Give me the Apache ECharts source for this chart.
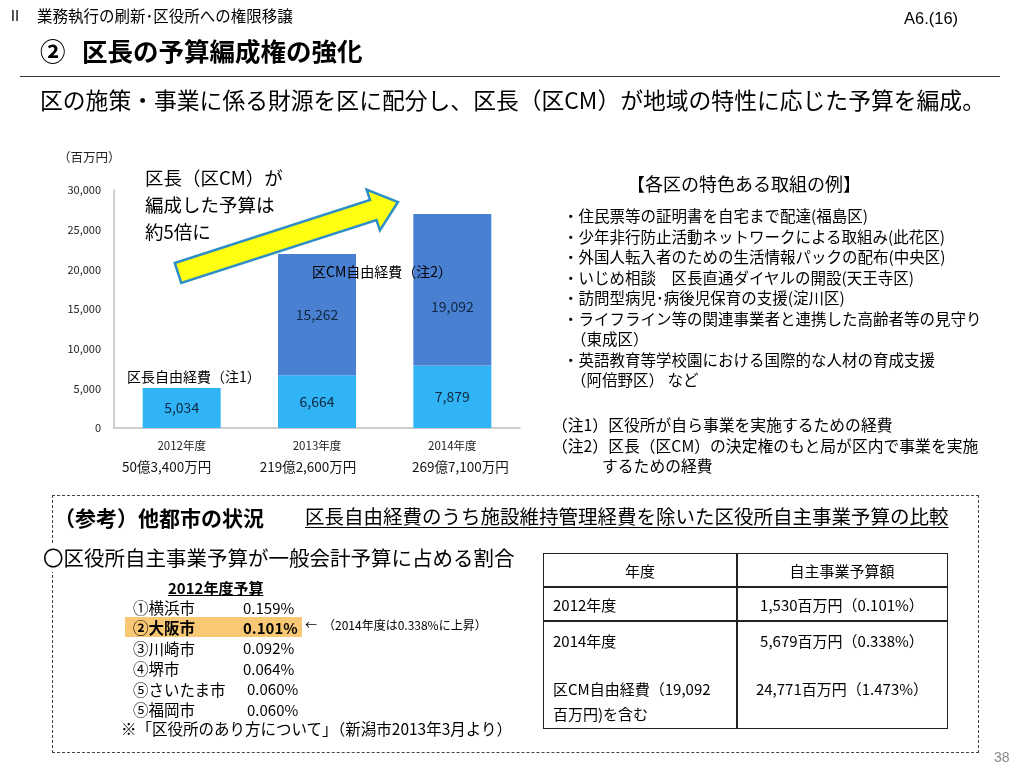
<!DOCTYPE html>
<html><head><meta charset="utf-8">
<script src="https://cdn.jsdelivr.net/npm/echarts@6/dist/echarts.min.js"></script>
<style>
html,body{margin:0;padding:0;background:#fff;}
body{width:1024px;height:768px;position:relative;overflow:hidden;font-family:"Noto Sans CJK JP","Noto Sans",sans-serif;color:#000;}
#chart{position:absolute;left:0;top:0;width:1024px;height:768px;}
.t{position:absolute;white-space:nowrap;}
</style></head><body>
<div id="chart"></div>
<div id="overlay"></div>
<script>
// ---- chart data ----
const categories = ['2012年度', '2013年度', '2014年度'];
const totalLabels = ['50億3,400万円', '219億2,600万円', '269億7,100万円'];
const kuchoFree = [5034, 6664, 7879];      // 区長自由経費
const cmFree = [null, 15262, 19092];       // 区CM自由経費
const yMin = 0, yMax = 30000, yStep = 5000;
const unitLabel = '（百万円）';
const bigNote = ['区長（区CM）が', '編成した予算は', '約5倍に'];
const seriesNames = ['区長自由経費（注1）', '区CM自由経費（注2）'];

// ---- slide text ----
const examples = [
  ['・住民票等の証明書を自宅まで配達(福島区)', 0],
  ['・少年非行防止活動ネットワークによる取組み(此花区)', 0],
  ['・外国人転入者のための生活情報パックの配布(中央区)', 0],
  ['・いじめ相談　区長直通ダイヤルの開設(天王寺区)', 0],
  ['・訪問型病児･病後児保育の支援(淀川区)', 0],
  ['・ライフライン等の関連事業者と連携した高齢者等の見守り', 0],
  ['（東成区）', 1],
  ['・英語教育等学校園における国際的な人材の育成支援', 0],
  ['（阿倍野区）  など', 1]
];
const notes = ['（注1）区役所が自ら事業を実施するための経費', '（注2）区長（区CM）の決定権のもと局が区内で事業を実施', 'するための経費'];
const cityRanks = [['①横浜市', '0.159%'], ['②大阪市', '0.101%'], ['③川崎市', '0.092%'], ['④堺市', '0.064%'], ['⑤さいたま市', '0.060%'], ['⑤福岡市', '0.060%']];
const tableHeader = ['年度', '自主事業予算額'];
const tableRows = [['2012年度', '1,530百万円（0.101%）'], ['2014年度', '5,679百万円（0.338%）'], ['区CM自由経費（19,092', '24,771百万円（1.473%）'], ['百万円)を含む', '']];

// ---- overlay helpers ----
const ov = document.getElementById('overlay');
function T(text, x, yc, size, css) {
  const d = document.createElement('div');
  d.className = 't';
  const lh = Math.round(size * 1.4);
  d.style.left = x + 'px';
  d.style.top = (yc - lh / 2) + 'px';
  d.style.lineHeight = lh + 'px';
  d.style.fontSize = size + 'px';
  if (css) d.style.cssText += css;
  d.textContent = text;
  ov.appendChild(d);
  return d;
}
function TC(text, cx, yc, size, css) {
  return T(text, cx - 200, yc, size, 'width:400px;text-align:center;' + (css || ''));
}
function box(x, y, w, h, css) {
  const d = document.createElement('div');
  d.style.cssText = 'position:absolute;left:' + x + 'px;top:' + y + 'px;width:' + w + 'px;height:' + h + 'px;box-sizing:border-box;' + (css || '');
  ov.appendChild(d);
  return d;
}

// header
T('Ⅱ', 8, 15, 14);
T('業務執行の刷新･区役所への権限移譲', 37, 15, 15.5);
T('A6.(16)', 904, 18, 16.5, 'font-family:"Liberation Sans Narrow","Liberation Sans",sans-serif;');
T('②', 40, 50, 25.5, 'font-weight:bold;');
T('区長の予算編成権の強化', 82, 50, 25.5, 'font-weight:bold;');
box(20, 76, 980, 1, 'background:#333;');
T('区の施策・事業に係る財源を区に配分し、区長（区CM）が地域の特性に応じた予算を編成。', 40, 100, 22.8);

// right column
T('【各区の特色ある取組の例】', 627, 183, 18);
examples.forEach((e, i) => T(e[0], e[1] ? 571 : 563, 215 + i * 20.5, 15.5));
T(notes[0], 552, 425, 15.8);
T(notes[1], 552, 446, 15.8);
T(notes[2], 602, 466, 15.8);

// bottom box
box(52, 495, 927, 258, 'border:1px dashed #444;');
T('（参考）他都市の状況', 54, 517, 21, 'font-weight:bold;');
T('区長自由経費のうち施設維持管理経費を除いた区役所自主事業予算の比較', 305, 515, 19.5, 'text-decoration:underline;text-underline-offset:3px;');
T('〇区役所自主事業予算が一般会計予算に占める割合', 43, 557, 20.5, 'background:#fff;');
T('2012年度予算', 168, 587, 15, 'font-weight:bold;text-decoration:underline;');
box(125, 617, 177, 20, 'background:#F9C874;');
cityRanks.forEach((r, i) => {
  const y = 607 + i * 20.4;
  const b = i === 1 ? 'font-weight:bold;' : '';
  T(r[0], 133, y, 15.5, b);
  T(r[1], i >= 4 ? 247 : 243, y, 15, b);
});
T('←　（2014年度は0.338%に上昇）', 305, 624, 12);
T('※「区役所のあり方について」（新潟市2013年3月より）', 121, 728, 15.5);

// table
box(543, 553, 405, 176, 'border:1.5px solid #222;');
box(736, 553, 1.5, 176, 'background:#222;');
box(543, 586, 405, 1.5, 'background:#222;');
box(543, 620, 405, 1.5, 'background:#222;');
TC(tableHeader[0], 640, 570, 15);
TC(tableHeader[1], 842, 570, 15);
T(tableRows[0][0], 553, 604, 15);
TC(tableRows[0][1], 842, 604, 15);
T(tableRows[1][0], 553, 640, 15);
TC(tableRows[1][1], 842, 640, 15);
T(tableRows[2][0], 553, 688, 15);
TC(tableRows[2][1], 842, 688, 15);
T(tableRows[3][0], 553, 713, 15);

T('38', 994, 757, 14, 'color:#888;font-family:"Liberation Sans",sans-serif;');

// ---- chart ----
const FONT = '"Noto Sans CJK JP","Noto Sans",sans-serif';
const fmt = v => (v == null ? '' : Number(v).toLocaleString('en-US'));
const chart = echarts.init(document.getElementById('chart'), null, { renderer: 'canvas' });

const richB = {};
const shifts = [[0, 30, 0, 0], [0, 18, 0, 0], [0, 0, 0, 16]];
shifts.forEach((p, i) => {
  richB['b' + i] = { fontSize: 13.5, color: '#111', lineHeight: 21, padding: p, fontFamily: FONT };
});

// arrow shape (decoration)
const tail = [178, 273], tip = [398, 202];
const dx = tip[0] - tail[0], dy = tip[1] - tail[1];
const L = Math.hypot(dx, dy), ux = dx / L, uy = dy / L, nx = -uy, ny = ux;
const hw = 10.5, hh = 21.5, hl = 26;
const bx = tip[0] - hl * ux, by = tip[1] - hl * uy;
const arrowPts = [
  [tail[0] - hw * nx, tail[1] - hw * ny],
  [bx - hw * nx, by - hw * ny],
  [bx - hh * nx, by - hh * ny],
  tip,
  [bx + hh * nx, by + hh * ny],
  [bx + hw * nx, by + hw * ny],
  [tail[0] + hw * nx, tail[1] + hw * ny]
];

const labelStyle = { show: true, position: 'inside', fontSize: 14, color: '#0f2740', fontFamily: FONT, formatter: p => fmt(p.value) };

chart.setOption({
  animation: false,
  textStyle: { fontFamily: FONT },
  grid: { left: 114, top: 190, width: 406, height: 238 },
  xAxis: {
    type: 'category',
    data: categories,
    axisLine: { lineStyle: { color: '#BFBFBF', width: 1.5 } },
    axisTick: { show: false },
    axisLabel: {
      margin: 8,
      interval: 0,
      formatter: (v, i) => '{a|' + v + '}\n{b' + i + '|' + totalLabels[i] + '}',
      rich: Object.assign({ a: { fontSize: 11.5, color: '#222', lineHeight: 20, fontFamily: FONT } }, richB)
    }
  },
  yAxis: {
    type: 'value', min: yMin, max: yMax, interval: yStep,
    axisLine: { show: true, lineStyle: { color: '#BFBFBF', width: 1.5 } },
    axisTick: { show: false },
    splitLine: { show: false },
    axisLabel: { fontSize: 11, color: '#222', margin: 13, formatter: v => fmt(v) }
  },
  series: [
    { name: seriesNames[0], type: 'bar', stack: 'total', barWidth: 78, data: kuchoFree,
      itemStyle: { color: '#30B4F6' }, label: labelStyle },
    { name: seriesNames[1], type: 'bar', stack: 'total', barWidth: 78,
      data: cmFree.map((v, i) => (i === 2 ? { value: v, label: { offset: [0, 17] } } : v)),
      itemStyle: { color: '#4A80D2' }, label: labelStyle }
  ],
  graphic: [
    { type: 'text', z: 10, style: { text: unitLabel, x: 58, y: 157, fontSize: 12.5, fill: '#222', fontFamily: FONT, verticalAlign: 'middle' } },
    { type: 'polygon', z: 20, shape: { points: arrowPts }, style: { fill: '#FFFF10', stroke: '#2E8FC6', lineWidth: 2.5 } },
    ...bigNote.map((s, i) => ({ type: 'text', z: 10, style: { text: s, x: 145, y: 178 + i * 27, fontSize: 18.5, fill: '#000', fontFamily: FONT, verticalAlign: 'middle' } })),
    { type: 'text', z: 10, style: { text: seriesNames[0], x: 127, y: 377, fontSize: 14, fill: '#000', fontFamily: FONT, verticalAlign: 'middle' } },
    { type: 'text', z: 10, style: { text: seriesNames[1], x: 312, y: 272, fontSize: 14, fill: '#000', fontFamily: FONT, verticalAlign: 'middle' } }
  ]
});
</script>
</body></html>
